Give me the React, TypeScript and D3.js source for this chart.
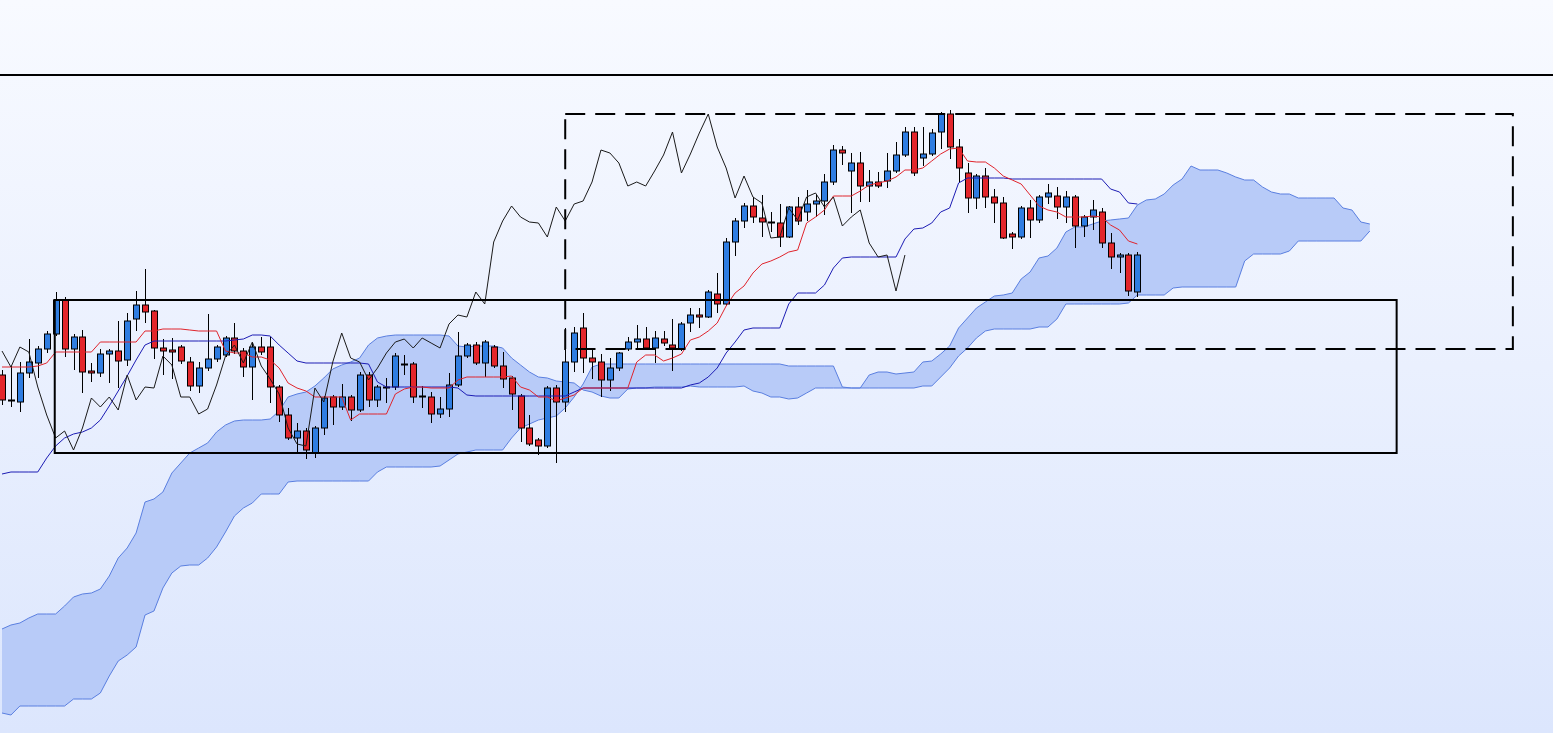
import { useEffect, useRef } from 'react'
import * as d3 from 'd3'

// daily candles, oldest first (price points)
const opens = [
  625, 600, 598, 627, 637, 651, 666, 700, 651, 663,
  629, 627, 646, 649, 640, 681, 695, 689, 652, 650,
  653, 638, 614, 632, 641, 645, 662, 649, 633, 653,
  653, 613, 585, 562, 569, 547, 572, 603, 593, 603,
  590, 625, 600, 613, 613, 636, 636, 604, 603, 586,
  591, 615, 644, 655, 637, 653, 634, 622, 604, 572,
  560, 554, 612, 598, 638, 672, 642, 638, 620, 632,
  651, 658, 661, 652, 661, 655, 651, 677, 685, 683,
  706, 696, 758, 779, 794, 782, 778, 777, 763, 793,
  788, 796, 799, 818, 850, 829, 837, 814, 818, 819,
  829, 845, 868, 842, 846, 868, 886, 853, 827, 802,
  824, 803, 797, 766, 763, 792, 780, 803, 804, 793,
  803, 774, 783, 788, 757, 743, 745, 708,
]
const highs = [
  630, 634, 638, 661, 654, 669, 708, 703, 666, 670,
  637, 651, 651, 679, 687, 709, 731, 690, 661, 662,
  655, 643, 638, 686, 655, 664, 677, 652, 658, 663,
  663, 615, 592, 577, 572, 574, 604, 605, 616, 605,
  628, 628, 615, 622, 647, 645, 638, 614, 608, 603,
  627, 668, 657, 658, 660, 655, 648, 624, 606, 585,
  562, 614, 615, 672, 673, 687, 650, 646, 642, 648,
  663, 675, 673, 669, 669, 681, 678, 692, 692, 710,
  727, 762, 782, 797, 803, 805, 788, 796, 794, 803,
  810, 806, 826, 855, 854, 847, 848, 830, 828, 847,
  858, 873, 873, 873, 871, 888, 890, 861, 837, 826,
  832, 811, 803, 768, 794, 800, 805, 816, 813, 809,
  805, 785, 800, 792, 767, 747, 747, 748,
]
const lows = [
  595, 593, 588, 622, 622, 647, 664, 643, 630, 607,
  618, 623, 617, 612, 634, 669, 677, 641, 625, 621,
  636, 609, 607, 629, 638, 643, 646, 623, 600, 645,
  597, 578, 560, 547, 541, 542, 565, 575, 590, 579,
  588, 593, 593, 597, 610, 625, 597, 592, 577, 582,
  583, 613, 642, 635, 623, 632, 612, 590, 558, 554,
  545, 552, 537, 588, 628, 627, 621, 603, 609, 629,
  649, 652, 650, 637, 654, 629, 649, 668, 672, 682,
  687, 694, 744, 772, 777, 763, 768, 753, 762, 775,
  779, 783, 785, 815, 835, 787, 798, 798, 812, 812,
  827, 843, 824, 834, 844, 851, 841, 817, 787, 791,
  792, 777, 761, 751, 761, 762, 777, 796, 781, 777,
  752, 763, 770, 752, 731, 727, 704, 703,
]
const closes = [
  600, 599, 627, 638, 651, 666, 700, 651, 663, 628,
  627, 646, 649, 639, 679, 695, 688, 652, 649, 648,
  639, 614, 632, 641, 653, 662, 649, 633, 653, 648,
  613, 585, 562, 569, 550, 572, 602, 593, 603, 590,
  625, 600, 613, 612, 644, 635, 603, 603, 586, 591,
  615, 644, 655, 637, 658, 634, 621, 606, 572, 556,
  554, 612, 598, 638, 667, 642, 638, 620, 632, 647,
  658, 661, 652, 662, 657, 652, 676, 685, 683, 708,
  696, 758, 779, 794, 783, 778, 777, 763, 793, 779,
  796, 799, 818, 850, 847, 837, 814, 818, 814, 829,
  845, 868, 827, 846, 867, 886, 853, 832, 802, 824,
  803, 797, 762, 763, 792, 780, 803, 807, 793, 803,
  774, 783, 790, 757, 743, 745, 709, 745,
]

// conversion line (tenkan) and base line (kijun)
const tenkan = [
  633, 633, 633, 633, 634, 637, 648, 648, 648, 648,
  648, 658, 658, 658, 658, 658, 669, 669, 671, 671,
  671, 670, 669, 669, 669, 649, 647, 647, 643, 643,
  640, 632, 617, 612, 609, 603, 603, 603, 603, 580,
  586, 586, 586, 586, 606, 611, 613, 613, 612, 612,
  612, 620, 623, 623, 623, 623, 623, 624, 613, 610,
  603, 603, 599, 602, 605, 612, 612, 612, 612, 612,
  612, 638, 645, 645, 639, 642, 646, 660, 663, 669,
  677, 694, 707, 714, 727, 736, 739, 743, 748, 750,
  777, 783, 790, 804, 804, 804, 809, 815, 817, 819,
  823, 830, 830, 832, 839, 846, 851, 852, 839, 838,
  838, 832, 824, 820, 816, 805, 794, 790, 788, 783,
  783, 783, 784, 783, 775, 770, 759, 756,
]
const kijun = [
  526, 528, 528, 528, 528, 542, 554, 562, 566, 568,
  572, 580, 594, 609, 624, 640, 655, 659, 659, 659,
  659, 659, 659, 659, 659, 659, 660, 661, 665, 665,
  664, 655, 647, 639, 637, 637, 637, 637, 637, 637,
  637, 636, 618, 613, 613, 613, 613, 613, 613, 613,
  613, 612, 605, 604, 604, 604, 604, 604, 604, 604,
  604, 604, 604, 604, 608, 612, 612, 612, 612, 612,
  612, 612, 612, 612, 612, 612, 612, 615, 617, 623,
  632, 647, 658, 670, 672, 672, 672, 672, 696, 707,
  707, 707, 715, 732, 742, 743, 743, 743, 743, 743,
  743, 761, 771, 772, 777, 788, 792, 817, 822, 822,
  822, 822, 822, 821, 821, 821, 821, 821, 821, 821,
  821, 821, 821, 821, 811, 808, 797, 796,
]

// leading spans, already displaced 26 bars ahead
const spanA = [
  371, 375, 377, 382, 386, 386, 386, 394, 403, 406,
  407, 411, 424, 442, 452, 467, 498, 501, 508, 527,
  537, 547, 552, 557, 568, 575, 579, 580, 580, 580,
  581, 589, 603, 606, 608, 614, 622, 631, 635, 638,
  642, 655, 662, 664, 665, 665, 665, 665, 665, 665,
  664, 654, 653, 654, 654, 654, 652, 642, 635, 628,
  623, 622, 619, 618, 617, 610, 608, 604, 602, 602,
  611, 612, 612, 613, 613, 613, 613, 614, 613, 613,
  613, 613, 613, 614, 609, 607, 603, 603, 601, 602,
  607, 612, 612, 612, 612, 612, 612, 625, 628, 628,
  626, 627, 628, 638, 639, 646, 654, 672, 682, 692,
  698, 704, 705, 707, 721, 728, 742, 744, 752, 768,
  773, 773, 776, 779, 780, 781, 782, 795, 800, 801,
  806, 815, 821, 834, 830, 830, 830, 827, 823, 820,
  820, 813, 808, 806, 806, 802, 802, 802, 802, 802,
  792, 790, 778, 776,
]
const spanB = [
  287, 285, 294, 294, 294, 294, 294, 294, 301, 301,
  301, 307, 324, 339, 345, 353, 385, 389, 412, 427,
  434, 435, 435, 442, 453, 468, 484, 492, 497, 506,
  506, 506, 518, 519, 519, 519, 519, 519, 519, 519,
  519, 519, 528, 533, 533, 533, 533, 533, 533, 534,
  540, 546, 548, 550, 550, 550, 550, 562, 572, 576,
  580, 582, 584, 592, 603, 616, 633, 636, 636, 636,
  636, 636, 636, 636, 636, 636, 636, 636, 636, 636,
  636, 636, 636, 636, 636, 636, 636, 636, 634, 634,
  634, 634, 634, 634, 613, 612, 612, 612, 612, 612,
  612, 612, 612, 614, 614, 623, 632, 644, 652, 662,
  669, 671, 671, 671, 671, 671, 673, 673, 681, 696,
  696, 696, 696, 696, 696, 696, 697, 705, 705, 705,
  705, 712, 713, 713, 713, 713, 713, 713, 713, 739,
  746, 746, 746, 746, 749, 759, 759, 759, 759, 759,
  759, 759, 759, 769,
]

const lagBars = 26
const levelPrice = 925
const solidBox = { from: 5.9, to: 156, top: 700, bottom: 547 }
const dashedBox = { from: 63, to: 169, top: 886, bottom: 651 }

export default function App() {
  const ref = useRef<SVGSVGElement>(null)

  useEffect(() => {
    const width = 1553
    const height = 733
    const svg = d3.select(ref.current)
    svg.selectAll('*').remove()

    const x = d3.scaleLinear().domain([0, 153]).range([2, 2 + 153 * 8.94])
    const y = d3.scaleLinear().domain([267, 1000]).range([height, 0])

    // background
    const grad = svg
      .append('defs')
      .append('linearGradient')
      .attr('id', 'bg')
      .attr('x1', 0)
      .attr('y1', 0)
      .attr('x2', 0)
      .attr('y2', 1)
    grad.append('stop').attr('offset', '0%').attr('stop-color', '#f8faff')
    grad.append('stop').attr('offset', '100%').attr('stop-color', '#dce6fd')
    svg.append('rect').attr('width', width).attr('height', height).attr('fill', 'url(#bg)')

    // cloud
    const idx = d3.range(spanA.length)
    svg
      .append('path')
      .datum(idx)
      .attr('fill', '#b8cbf8')
      .attr(
        'd',
        d3
          .area<number>()
          .x((i) => x(i))
          .y0((i) => y(spanA[i]))
          .y1((i) => y(spanB[i]))
      )
    const lineOf = (arr: number[]) =>
      d3
        .line<number>()
        .x((i) => x(i))
        .y((i) => y(arr[i]))
    ;[spanA, spanB].forEach((s) => {
      svg
        .append('path')
        .datum(idx)
        .attr('fill', 'none')
        .attr('stroke', '#5a7fe0')
        .attr('stroke-width', 1)
        .attr('d', lineOf(s))
    })

    // candles
    const bars = d3.range(closes.length)
    const g = svg.append('g')
    g.selectAll('line.wick')
      .data(bars)
      .join('line')
      .attr('class', 'wick')
      .attr('x1', (i) => Math.round(x(i)) + 0.5)
      .attr('x2', (i) => Math.round(x(i)) + 0.5)
      .attr('y1', (i) => y(highs[i]))
      .attr('y2', (i) => y(lows[i]))
      .attr('stroke', '#000')
      .attr('stroke-width', 1)
    g.selectAll('rect.body')
      .data(bars)
      .join('rect')
      .attr('class', 'body')
      .attr('x', (i) => Math.round(x(i)) - 2.5)
      .attr('width', 6)
      .attr('y', (i) => y(Math.max(opens[i], closes[i])))
      .attr('height', (i) => Math.max(1, Math.abs(y(opens[i]) - y(closes[i]))))
      .attr('fill', (i) => (closes[i] >= opens[i] ? '#2f7de1' : '#e3262b'))
      .attr('stroke', '#000')
      .attr('stroke-width', 1)

    // base + conversion lines
    svg
      .append('path')
      .datum(bars)
      .attr('fill', 'none')
      .attr('stroke', '#1c1cb4')
      .attr('stroke-width', 1)
      .attr('d', lineOf(kijun))
    svg
      .append('path')
      .datum(bars)
      .attr('fill', 'none')
      .attr('stroke', '#e0242c')
      .attr('stroke-width', 1)
      .attr('d', lineOf(tenkan))

    // lagging span
    svg
      .append('path')
      .datum(d3.range(lagBars, closes.length))
      .attr('fill', 'none')
      .attr('stroke', '#1a1a1a')
      .attr('stroke-width', 1)
      .attr(
        'd',
        d3
          .line<number>()
          .x((i) => x(i - lagBars))
          .y((i) => y(closes[i]))
      )

    // annotations
    svg
      .append('line')
      .attr('x1', 0)
      .attr('x2', width)
      .attr('y1', y(levelPrice))
      .attr('y2', y(levelPrice))
      .attr('stroke', '#000')
      .attr('stroke-width', 2)
    svg
      .append('rect')
      .attr('x', x(solidBox.from))
      .attr('y', y(solidBox.top))
      .attr('width', x(solidBox.to) - x(solidBox.from))
      .attr('height', y(solidBox.bottom) - y(solidBox.top))
      .attr('fill', 'none')
      .attr('stroke', '#000')
      .attr('stroke-width', 2)
    svg
      .append('rect')
      .attr('x', x(dashedBox.from))
      .attr('y', y(dashedBox.top))
      .attr('width', x(dashedBox.to) - x(dashedBox.from))
      .attr('height', y(dashedBox.bottom) - y(dashedBox.top))
      .attr('fill', 'none')
      .attr('stroke', '#000')
      .attr('stroke-width', 2)
      .attr('stroke-dasharray', '20,10')
  }, [])

  return (
    <svg
      ref={ref}
      width={1553}
      height={733}
      style={{ position: 'absolute', left: 0, top: 0, display: 'block' }}
    />
  )
}
